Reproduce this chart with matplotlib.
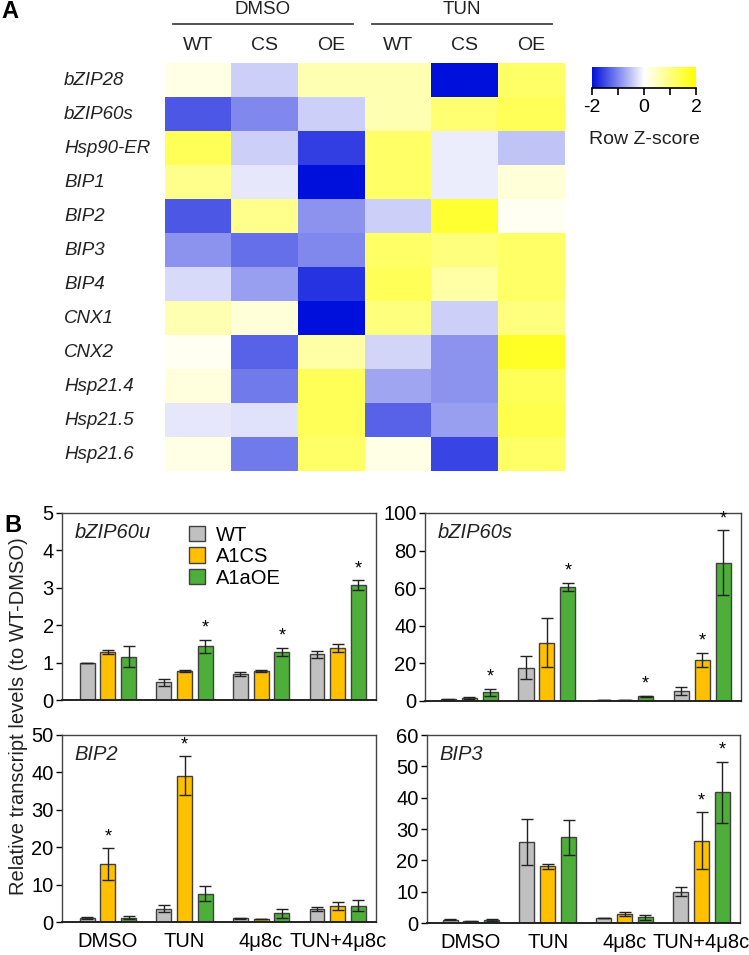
import matplotlib
matplotlib.use('Agg')
import matplotlib.pyplot as plt
import numpy as np
from matplotlib.colors import LinearSegmentedColormap
from matplotlib.transforms import blended_transform_factory

plt.rcParams['font.family'] = ['Liberation Sans', 'DejaVu Sans']
plt.rcParams['font.size'] = 12

W, H = 749, 955

# ---------------- data: heatmap (panel A) ----------------
genes = ['bZIP28', 'bZIP60s', 'Hsp90-ER', 'BIP1', 'BIP2', 'BIP3', 'BIP4',
         'CNX1', 'CNX2', 'Hsp21.4', 'Hsp21.5', 'Hsp21.6']
columns = ['WT', 'CS', 'OE', 'WT', 'CS', 'OE']
treat_groups = ['DMSO', 'TUN']
zscores = np.array([
    [0.2, -0.4, 0.6, 0.6, -2.0, 1.2],
    [-1.4, -1.0, -0.4, 0.6, 1.1, 1.3],
    [1.3, -0.4, -1.6, 1.2, -0.15, -0.5],
    [0.9, -0.2, -2.0, 1.2, -0.15, 0.3],
    [-1.4, 0.9, -0.9, -0.4, 1.6, 0.1],
    [-0.9, -1.2, -1.0, 1.2, 1.0, 1.2],
    [-0.3, -0.8, -1.7, 1.3, 0.7, 1.2],
    [0.6, 0.3, -2.0, 1.0, -0.4, 1.0],
    [0.1, -1.3, 0.7, -0.35, -0.9, 1.7],
    [0.25, -1.1, 1.3, -0.75, -0.9, 1.3],
    [-0.2, -0.25, 1.3, -1.3, -0.8, 1.4],
    [0.2, -1.1, 1.2, 0.2, -1.55, 1.2],
])

# ---------------- data: bar panels (panel B) ----------------
treatments = ['DMSO', 'TUN', '4\u03bc8c', 'TUN+4\u03bc8c']
lines = ['WT', 'A1CS', 'A1aOE']

bzip60u_mean = [[1.0, 1.28, 1.16], [0.47, 0.78, 1.44], [0.70, 0.78, 1.29], [1.22, 1.39, 3.07]]
bzip60u_err = [[0.0, 0.05, 0.29], [0.10, 0.03, 0.17], [0.06, 0.03, 0.11], [0.10, 0.11, 0.14]]
bzip60u_star = [[0, 0, 0], [0, 0, 1], [0, 0, 1], [0, 0, 1]]

bzip60s_mean = [[0.8, 1.5, 4.6], [17.8, 31.0, 60.6], [0.4, 0.4, 2.6], [5.3, 21.8, 73.6]]
bzip60s_err = [[0.2, 0.4, 1.9], [6.3, 13.0, 2.3], [0.1, 0.1, 0.3], [2.1, 3.9, 17.4]]
bzip60s_star = [[0, 0, 1], [0, 0, 1], [0, 0, 1], [0, 1, 1]]

bip2_mean = [[1.0, 15.5, 1.2], [3.6, 39.1, 7.5], [1.0, 0.8, 2.3], [3.5, 4.3, 4.4]]
bip2_err = [[0.3, 4.3, 0.4], [1.0, 5.2, 2.0], [0.1, 0.1, 1.3], [0.5, 1.0, 1.5]]
bip2_star = [[0, 1, 0], [0, 1, 0], [0, 0, 0], [0, 0, 0]]

bip3_mean = [[1.0, 0.5, 0.9], [25.8, 18.1, 27.4], [1.6, 2.8, 1.8], [10.0, 26.3, 41.7]]
bip3_err = [[0.2, 0.1, 0.4], [7.3, 0.8, 5.6], [0.1, 0.7, 0.8], [1.4, 9.0, 9.8]]
bip3_star = [[0, 0, 0], [0, 0, 0], [0, 0, 0], [0, 1, 1]]

bar_colors = ['#C0C0C0', '#FFC000', '#4EAE3A']


def fig_rect(left, top, right, bottom):
    return [left / W, 1 - bottom / H, (right - left) / W, (bottom - top) / H]


fig = plt.figure(figsize=(W / 100, H / 100), dpi=100)

# ============================================================
# Panel A: heatmap
# ============================================================
cmap = LinearSegmentedColormap.from_list('bwy', ['#0010DC', '#FFFFFF', '#FFFF00'])
axh = fig.add_axes(fig_rect(165, 63, 565, 471))
axh.imshow(zscores, cmap=cmap, vmin=-2, vmax=2, aspect='auto',
           interpolation='nearest', extent=(0, len(columns), len(genes), 0))
axh.set_xlim(0, len(columns))
axh.set_ylim(len(genes), 0)
axh.axis('off')

tr = blended_transform_factory(fig.transFigure, axh.transData)
for i, g in enumerate(genes):
    axh.text(64 / W, i + 0.5, g, transform=tr, ha='left', va='center',
             fontsize=13.5, style='italic', color='#222222')

for j, c in enumerate(columns):
    fig.text((165 + (j + 0.5) * 400 / 6) / W, 1 - 46 / H, c, ha='center',
             va='center', fontsize=14, color='#222222')

for k, grp in enumerate(treat_groups):
    x0 = 173 + k * 199
    x1 = x0 + 180
    fig.add_artist(plt.Line2D([x0 / W, x1 / W], [1 - 24 / H, 1 - 24 / H],
                              color='#444444', lw=1.3))
    fig.text((x0 + x1) / 2 / W, 1 - 10 / H, grp, ha='center', va='center',
             fontsize=13.5, color='#222222')

fig.text(10 / W, 1 - 12 / H, 'A', ha='center', va='center', fontsize=17,
         weight='bold')

# colour key
axc = fig.add_axes(fig_rect(592, 67, 696, 88))
grad = np.linspace(-2, 2, 256)[None, :]
axc.imshow(grad, cmap=cmap, vmin=-2, vmax=2, aspect='auto',
           extent=(-2, 2, 0, 1))
for s in ['top', 'right', 'left']:
    axc.spines[s].set_visible(False)
axc.spines['bottom'].set_linewidth(1.2)
axc.set_yticks([])
axc.set_xticks([-2, -1, 0, 1, 2])
axc.set_xticklabels(['-2', '', '0', '', '2'], fontsize=14)
axc.tick_params(axis='x', length=5, width=1.2, pad=3)
fig.text(644 / W, 1 - 140 / H, 'Row Z-score', ha='center', va='center',
         fontsize=14, color='#222222')

# ============================================================
# Panel B: bar charts
# ============================================================
panels = [
    ('bZIP60u', bzip60u_mean, bzip60u_err, bzip60u_star, 5, 1, (62, 513, 376, 700), (-0.6, 3.5), False),
    ('bZIP60s', bzip60s_mean, bzip60s_err, bzip60s_star, 100, 20, (425, 513, 741, 701), (-0.57, 3.5), False),
    ('BIP2', bip2_mean, bip2_err, bip2_star, 50, 10, (62, 735, 376, 922), (-0.6, 3.5), True),
    ('BIP3', bip3_mean, bip3_err, bip3_star, 60, 10, (427, 735, 740, 923), (-0.57, 3.5), True),
]

width = 0.195
offset = 0.27
x = np.arange(len(treatments))

for idx, (name, mean, err, star, ymax, ystep, box, xlim, xlabels) in enumerate(panels):
    l, t, r, b = box
    ax = fig.add_axes(fig_rect(l, t, r, b))
    mean = np.array(mean)
    err = np.array(err)
    for k in range(len(lines)):
        ax.bar(x + (k - 1) * offset, mean[:, k], width, yerr=err[:, k],
               color=bar_colors[k], edgecolor='#404040', linewidth=1,
               error_kw=dict(ecolor='#222222', elinewidth=1, capsize=4.5, capthick=1),
               label=lines[k], zorder=2)
        for g in range(len(treatments)):
            if star[g][k]:
                ax.text(x[g] + (k - 1) * offset, mean[g, k] + err[g, k] + ymax * 0.015,
                        '*', ha='center', va='bottom', fontsize=13)
    ax.set_xlim(*xlim)
    ax.set_ylim(0, ymax)
    ax.set_yticks(np.arange(0, ymax + ystep / 2, ystep))
    ax.tick_params(axis='y', direction='out', length=4, width=1, labelsize=14.5, pad=2)
    ax.tick_params(axis='x', length=0, labelsize=14.5, pad=7)
    ax.set_xticks(x)
    if xlabels:
        ax.set_xticklabels(treatments)
    else:
        ax.set_xticklabels([])
    for s in ['top', 'right', 'left']:
        ax.spines[s].set_linewidth(1)
        ax.spines[s].set_color('#444444')
    ax.spines['bottom'].set_linewidth(1.4)
    ax.spines['bottom'].set_color('#222222')
    ax.text(0.04, 0.895, name, transform=ax.transAxes, ha='left', va='center',
            fontsize=14.5, style='italic', color='#222222')
    if idx == 0:
        ax.legend(loc='upper left', bbox_to_anchor=(0.38, 0.975), frameon=False,
                  fontsize=14.5, handlelength=0.8, handleheight=0.8,
                  labelspacing=0.12, handletextpad=0.5, borderaxespad=0)

fig.text(13 / W, 1 - 525 / H, 'B', ha='center', va='center', fontsize=17,
         weight='bold')
fig.text(19 / W, 1 - 716 / H, 'Relative transcript levels (to WT-DMSO)',
         rotation=90, ha='center', va='center', fontsize=14.5, color='#222222')

fig.savefig('out.png', dpi=100)
